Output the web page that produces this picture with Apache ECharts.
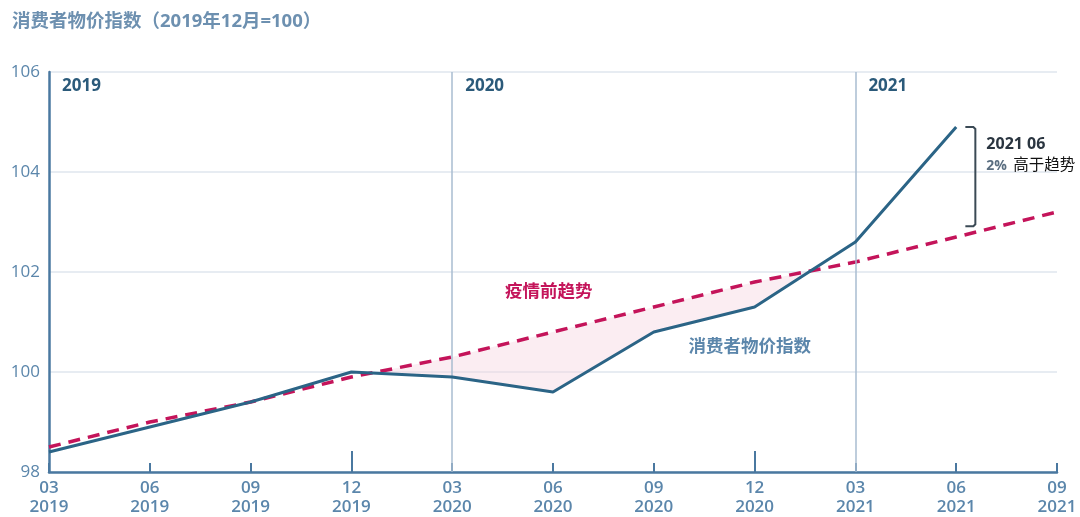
<!DOCTYPE html>
<html>
<head>
<meta charset="utf-8">
<script src="https://cdn.jsdelivr.net/npm/echarts@6/dist/echarts.min.js"></script>
<style>
  html, body { margin: 0; padding: 0; background: #ffffff; }
  #chart { width: 1080px; height: 517px; }
</style>
</head>
<body>
<div id="chart"></div>
<script>
// Quarterly months and years along the x axis
const months = ['03', '06', '09', '12', '03', '06', '09', '12', '03', '06', '09'];
const years  = ['2019', '2019', '2019', '2019', '2020', '2020', '2020', '2020', '2021', '2021', '2021'];
const categories = months.map((m, i) => m + '\n' + years[i]);

// Consumer price index (Dec 2019 = 100)
const cpiValues = [98.4, 98.9, 99.4, 100.0, 99.9, 99.6, 100.8, 101.3, 102.6, 104.9, null];
// Pre-pandemic trend
const trendValues = [98.5, 99.0, 99.4, 99.9, 100.3, 100.8, 101.3, 101.8, 102.2, 102.7, 103.2];

// Y axis range
const yMin = 98, yMax = 106, yStep = 2;

// Year section markers (category index where each year block starts) and their labels
const yearStarts = [0, 4, 8];
const yearLabels = ['2019', '2020', '2021'];
// Categories with a longer tick (December)
const tallTicks = [3, 7];

// Shaded gap between trend and CPI, from Dec 2019 to Mar 2021
const gapFrom = 3, gapTo = 8;

// Annotation at the last CPI point
const noteIndex = 9;
const noteTitle = '2021 06';
const notePct = '2%';
const noteText = '高于趋势';

const BLUE_AXIS = '#4a78a0';
const LABEL = '#5b86ab';
const CPI_COLOR = '#2b6486';
const TREND_COLOR = '#c4145a';
const FONT = '"Open Sans", "Noto Sans CJK SC", sans-serif';

const chart = echarts.init(document.getElementById('chart'), null, { renderer: 'canvas' });

function gapPolygon(params, api) {
  const up = [], low = [];
  for (let i = gapFrom; i <= gapTo; i++) {
    up.push({ p: api.coord([i, trendValues[i]]), d: trendValues[i] - cpiValues[i] });
    low.push(api.coord([i, cpiValues[i]]));
  }
  // Build polygon over stretches where trend > CPI, splitting at crossings
  const top = [], bottom = [];
  for (let k = 0; k < up.length; k++) {
    const d = up[k].d;
    if (k > 0) {
      const dPrev = up[k - 1].d;
      if ((dPrev > 0) !== (d > 0)) {
        const t = dPrev / (dPrev - d);
        const a = up[k - 1].p, b = up[k].p;
        const x = [a[0] + (b[0] - a[0]) * t, a[1] + (b[1] - a[1]) * t];
        top.push(x); bottom.push(x);
      }
    }
    if (d > 0) { top.push(up[k].p); bottom.push(low[k]); }
  }
  const pts = top.concat(bottom.reverse());
  return {
    type: 'polygon',
    shape: { points: pts },
    style: { fill: 'rgba(246, 212, 225, 0.42)' },
    z2: 0
  };
}

const option = {
  animation: false,
  grid: { left: 49, right: 23, top: 72, bottom: 41 },
  xAxis: {
    type: 'category',
    data: categories,
    boundaryGap: false,
    axisLine: { lineStyle: { color: BLUE_AXIS, width: 2.5 } },
    axisTick: { show: true, inside: true, length: 9, alignWithLabel: true, lineStyle: { color: BLUE_AXIS, width: 2 } },
    axisLabel: {
      interval: 0, margin: 7, color: LABEL, fontSize: 17, fontWeight: 600,
      lineHeight: 19, fontFamily: FONT
    },
    splitLine: { show: false }
  },
  yAxis: {
    type: 'value',
    min: yMin, max: yMax, interval: yStep,
    axisLine: { show: true, lineStyle: { color: BLUE_AXIS, width: 2.5 } },
    axisTick: { show: false },
    axisLabel: { margin: 9, color: LABEL, fontSize: 17, fontFamily: FONT },
    splitLine: { lineStyle: { color: '#dfe6ee', width: 1.5 } }
  },
  series: [
    {
      type: 'custom',
      renderItem: gapPolygon,
      data: [0],
      silent: true,
      z: 1
    },
    {
      name: '疫情前趋势',
      type: 'line',
      data: trendValues,
      symbol: 'none',
      lineStyle: { color: TREND_COLOR, width: 3.5, type: [12, 8] },
      z: 4,
      markLine: {
        silent: true,
        symbol: 'none',
        label: { show: false },
        lineStyle: { color: '#a9bdd0', width: 1.5, type: 'solid' },
        data: yearStarts.slice(1).map(i => ({ xAxis: i }))
      }
    },
    {
      name: '消费者物价指数',
      type: 'line',
      data: cpiValues,
      symbol: 'none',
      lineStyle: { color: CPI_COLOR, width: 3 },
      z: 5,
      markLine: {
        silent: true,
        symbol: 'none',
        label: { show: false },
        lineStyle: { color: BLUE_AXIS, width: 2, type: 'solid' },
        data: tallTicks.map(i => [{ xAxis: i, yAxis: yMin }, { xAxis: i, yAxis: yMin + 0.42 }])
      }
    }
  ]
};

chart.setOption(option);

// Text and bracket annotations placed through the chart's own coordinate system
function px(i, v) { return chart.convertToPixel({ seriesIndex: 2 }, [i, v]); }

const gridTop = px(0, yMax)[1];
const graphics = [
  {
    type: 'text', left: 12, top: 12,
    style: { text: '消费者物价指数（2019年12月=100）', fill: '#6d90b0', font: 'bold 18.5px ' + FONT }
  }
];

yearStarts.forEach((idx, k) => {
  const p = px(idx, yMax);
  graphics.push({
    type: 'text', x: p[0] + 13, y: gridTop + 6,
    style: { text: yearLabels[k], fill: '#2b5a7a', font: 'bold 17px ' + FONT }
  });
});

// Series labels
const trendLblPos = px(5, trendValues[5]);
graphics.push({
  type: 'text', x: trendLblPos[0] - 48, y: px(4, 101.78)[1],
  style: { text: '疫情前趋势', fill: TREND_COLOR, font: 'bold 17.5px ' + FONT }
});
const cpiLblPos = px(7, cpiValues[7]);
graphics.push({
  type: 'text', x: cpiLblPos[0] - 66, y: px(7, 100.68)[1],
  style: { text: '消费者物价指数', fill: '#5b86ab', font: 'bold 17.5px ' + FONT }
});

// Bracket between the last CPI value and the trend
const pA = px(noteIndex, cpiValues[noteIndex]);
const pB = px(noteIndex + 1, trendValues[noteIndex + 1]);
const bx = pA[0] + (pB[0] - pA[0]) * 0.19;
const trendAtBx = trendValues[noteIndex] + (trendValues[noteIndex + 1] - trendValues[noteIndex]) * 0.19;
const yTop = pA[1];
const yBot = px(noteIndex, trendAtBx + 0.12)[1];
graphics.push({
  type: 'polyline',
  shape: { points: [[bx - 10, yTop], [bx - 2, yTop], [bx, yTop + 2], [bx, yBot - 2], [bx - 2, yBot], [bx - 10, yBot]] },
  style: { stroke: '#3b4a55', lineWidth: 2, fill: null }
});
graphics.push({
  type: 'text', x: bx + 11, y: yTop + 9,
  style: { text: noteTitle, fill: '#2a3540', font: 'bold 16px ' + FONT }
});
graphics.push({
  type: 'text', x: bx + 11, y: yTop + 32,
  style: { text: notePct, fill: '#5a6e80', font: 'bold 14px ' + FONT }
});
graphics.push({
  type: 'text', x: bx + 38, y: yTop + 31,
  style: { text: noteText, fill: '#111111', font: '15.5px ' + FONT }
});

chart.setOption({ graphic: graphics });
</script>
</body>
</html>
